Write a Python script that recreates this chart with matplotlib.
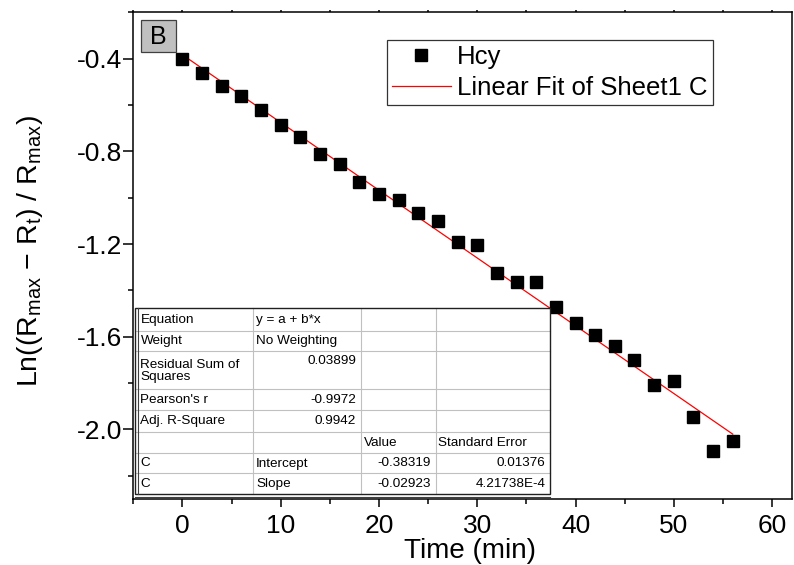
import matplotlib
matplotlib.use('Agg')
import matplotlib.pyplot as plt
from matplotlib.patches import Rectangle
from matplotlib.ticker import MultipleLocator, FuncFormatter

plt.rcParams['font.family'] = ['Liberation Sans', 'DejaVu Sans']
plt.rcParams['mathtext.fontset'] = 'custom'
plt.rcParams['mathtext.rm'] = 'Liberation Sans'
plt.rcParams['mathtext.it'] = 'Liberation Sans:italic'

# data (Time in min, Ln((Rmax - Rt)/Rmax))
time_min = [0, 2, 4, 6, 8, 10, 12, 14, 16, 18, 20, 22, 24, 26, 28,
            30, 32, 34, 36, 38, 40, 42, 44, 46, 48, 50, 52, 54, 56]
ln_ratio = [-0.400, -0.460, -0.520, -0.560, -0.622, -0.688, -0.737, -0.810,
            -0.855, -0.932, -0.985, -1.012, -1.068, -1.099, -1.189,
            -1.206, -1.327, -1.362, -1.364, -1.471, -1.540, -1.594,
            -1.641, -1.699, -1.808, -1.791, -1.947, -2.094, -2.048]

# linear fit results
intercept = -0.38319
slope = -0.02923
fit_x = [0, 56]
fit_y = [intercept + slope * t for t in fit_x]

# fit report table
table_rows = [
    ['Equation', 'y = a + b*x', '', ''],
    ['Weight', 'No Weighting', '', ''],
    ['Residual Sum of\nSquares', '0.03899', '', ''],
    ["Pearson's r", '-0.9972', '', ''],
    ['Adj. R-Square', '0.9942', '', ''],
    ['', '', 'Value', 'Standard Error'],
    ['C', 'Intercept', '-0.38319', '0.01376'],
    ['C', 'Slope', '-0.02923', '4.21738E-4'],
]

W, H = 794, 565
fig = plt.figure(figsize=(W / 100, H / 100), dpi=100)
ax = fig.add_axes([133.3 / W, 1 - 499 / H, (791.7 - 133.3) / W, (499 - 12.3) / H])

ax.plot(time_min, ln_ratio, 's', color='black', markersize=8, label='Hcy', zorder=3)
ax.plot(fit_x, fit_y, '-', color='red', linewidth=0.9, label='Linear Fit of Sheet1 C', zorder=2)

ax.set_xlim(-5, 62)
ax.set_ylim(-2.3, -0.2)
ax.xaxis.set_major_locator(MultipleLocator(10))
ax.xaxis.set_minor_locator(MultipleLocator(5))
ax.set_yticks([-0.4, -0.8, -1.2, -1.6, -2.0])
ax.yaxis.set_minor_locator(MultipleLocator(0.2))
ax.yaxis.set_major_formatter(FuncFormatter(lambda v, p: '%.1f' % v))

for s in ax.spines.values():
    s.set_linewidth(1.1)
ax.tick_params(axis='x', which='major', direction='out', length=6, width=1.1,
               labelsize=19, pad=5, top=True)
ax.tick_params(axis='x', which='minor', direction='out', length=3.5, width=1.1, top=True)
ax.tick_params(axis='y', which='major', direction='out', length=7, width=1.1,
               labelsize=19, pad=1)
ax.tick_params(axis='y', which='minor', direction='out', length=3.5, width=1.1)
# tiny marks on the top spine
for t in ax.xaxis.get_ticklines(minor=False)[1::2] + ax.xaxis.get_ticklines(minor=True)[1::2]:
    t.set_markersize(1.5)

fig.text(470 / W, 1 - 551 / H, 'Time (min)', fontsize=20, ha='center', va='center')
fig.text(30 / W, 1 - 251 / H,
         r'Ln((R$_{\mathregular{max}}$ $-$ R$_{\mathregular{t}}$) / R$_{\mathregular{max}}$)',
         fontsize=20.5, rotation=90, ha='center', va='center')

leg = ax.legend(loc='upper left', bbox_to_anchor=(386.7 / W, 1 - 40 / H),
                bbox_transform=fig.transFigure, fontsize=18.5, frameon=True,
                fancybox=False, edgecolor='black', handlelength=2.3,
                handletextpad=0.25, borderpad=0.2, labelspacing=0.25,
                borderaxespad=0, markerscale=1.0)
leg.get_frame().set_linewidth(0.9)

# overlay in pixel units for the panel letter and the fit report
ov = fig.add_axes([0, 0, 1, 1], zorder=5)
ov.set_xlim(0, W)
ov.set_ylim(H, 0)
ov.axis('off')
ov.add_patch(Rectangle((140.7, 20), 35, 31.7, facecolor='#c0c0c0', edgecolor='#404040', linewidth=0.9))
ov.text(158.2, 36.5, 'B', fontsize=18, ha='center', va='center')

col_x = [135, 253, 360.5, 435.5, 550]
row_y = [308.3, 330.7, 351, 389.3, 410, 431.7, 452.7, 473.3, 494]
ov.add_patch(Rectangle((col_x[0], row_y[0]), col_x[-1] - col_x[0], row_y[-1] - row_y[0],
                       facecolor='white', edgecolor='none', zorder=1))
for x in col_x[1:-1]:
    ov.plot([x, x], [row_y[0], row_y[-1]], color='#c0c0c0', linewidth=0.8, zorder=2)
for y in row_y[1:-1]:
    ov.plot([col_x[0], col_x[-1]], [y, y], color='#c0c0c0', linewidth=0.8, zorder=2)
ov.add_patch(Rectangle((col_x[0], row_y[0]), col_x[-1] - col_x[0], row_y[-1] - row_y[0],
                       facecolor='none', edgecolor='#202020', linewidth=1.0, zorder=3))
ov.plot([137.5, 137.5], [row_y[0], row_y[-1]], color='#404040', linewidth=0.8, zorder=3)
ov.plot([col_x[0], col_x[-1]], [496.7, 496.7], color='#404040', linewidth=0.8, zorder=3)

numeric_cols = {1: [2, 3, 4], 2: [6, 7], 3: [6, 7]}
for r, row in enumerate(table_rows):
    top, bot = row_y[r], row_y[r + 1]
    for c, txt in enumerate(row):
        if not txt:
            continue
        if r == 2 and c == 1:
            yy, va = top + 4, 'top'
        else:
            yy, va = (top + bot) / 2 + 0.5, 'center'
        if r in numeric_cols.get(c, []):
            ov.text(col_x[c + 1] - 4.5, yy, txt, fontsize=9.7, ha='right', va=va,
                    linespacing=1.0, zorder=4)
        else:
            xx = col_x[c] + (5.5 if c == 0 else 3)
            ov.text(xx, yy, txt, fontsize=9.7, ha='left', va=va, linespacing=1.0, zorder=4)

fig.savefig('out.png', dpi=100)
